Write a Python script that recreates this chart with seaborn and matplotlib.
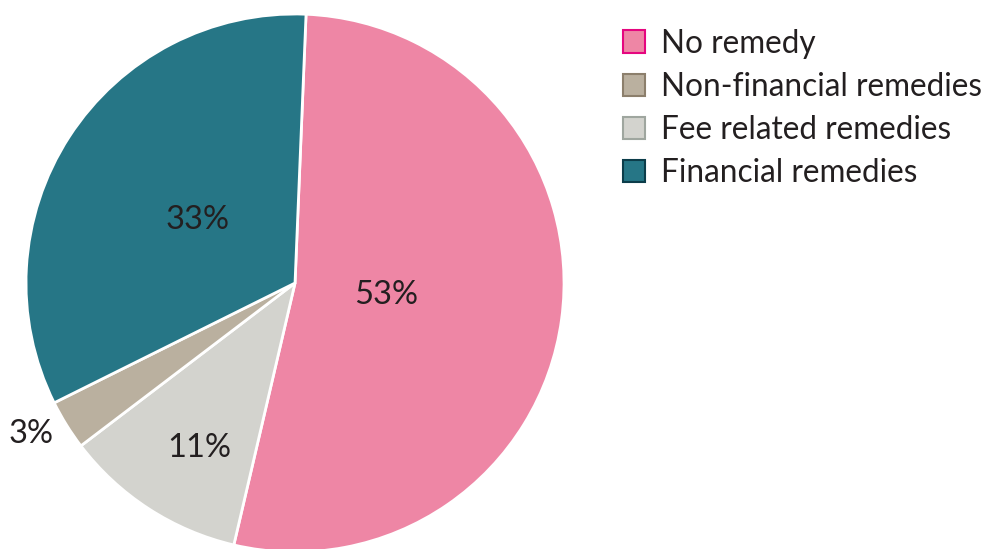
import numpy as np
import matplotlib
matplotlib.use("Agg")
import matplotlib.pyplot as plt
from matplotlib.patches import Patch
import seaborn as sns

# Remedy outcomes, in the order they are drawn clockwise from the top
slices = ["No remedy", "Fee related remedies", "Non-financial remedies", "Financial remedies"]
shares = [53, 11, 3, 33]
slice_colors = ["#EE86A5", "#D3D3CE", "#BAB09F", "#267686"]
slice_edges = ["#E5067F", "#9FA69F", "#8C7F6C", "#0C3D4A"]

# Legend order
legend_order = ["No remedy", "Non-financial remedies", "Fee related remedies", "Financial remedies"]

# Radial distance of each percentage label (fraction of radius)
label_radius = [0.34, 0.71, 1.13, 0.43]
# Small angular nudge of each label (degrees)
label_nudge = [0.0, 2.8, -2.0, 0.0]

sns.set_theme(style="white")
plt.rcParams["font.family"] = ["Lato", "DejaVu Sans"]
text_color = "#231F20"

fig = plt.figure(figsize=(9.96, 5.49), dpi=100)
ax = fig.add_axes([0.0261, -0.0055, 0.5402, 0.98])

start = 87.65
wedges, _ = ax.pie(
    shares,
    colors=sns.color_palette(slice_colors),
    startangle=start,
    counterclock=False,
    radius=1.0,
    wedgeprops=dict(edgecolor="white", linewidth=2.0),
)

for w, val, r, d in zip(wedges, shares, label_radius, label_nudge):
    mid = np.deg2rad((w.theta1 + w.theta2) / 2 + d)
    ax.text(r * np.cos(mid), r * np.sin(mid), f"{val}%",
            ha="center", va="center", fontsize=23.5, color=text_color)

ax.set_xlim(-1, 1)
ax.set_ylim(-1, 1)
ax.set_aspect("equal")
ax.axis("off")

handles = []
for name in legend_order:
    i = slices.index(name)
    handles.append(Patch(facecolor=slice_colors[i], edgecolor=slice_edges[i], linewidth=1.5, label=name))

fig.legend(
    handles=handles,
    loc="upper left",
    bbox_to_anchor=(0.6125, 0.971),
    frameon=False,
    fontsize=22.7,
    labelcolor=text_color,
    handlelength=0.71,
    handleheight=0.71,
    handletextpad=0.52,
    labelspacing=0.42,
    borderaxespad=0,
)

fig.savefig("out.png", dpi=100, facecolor="white")
